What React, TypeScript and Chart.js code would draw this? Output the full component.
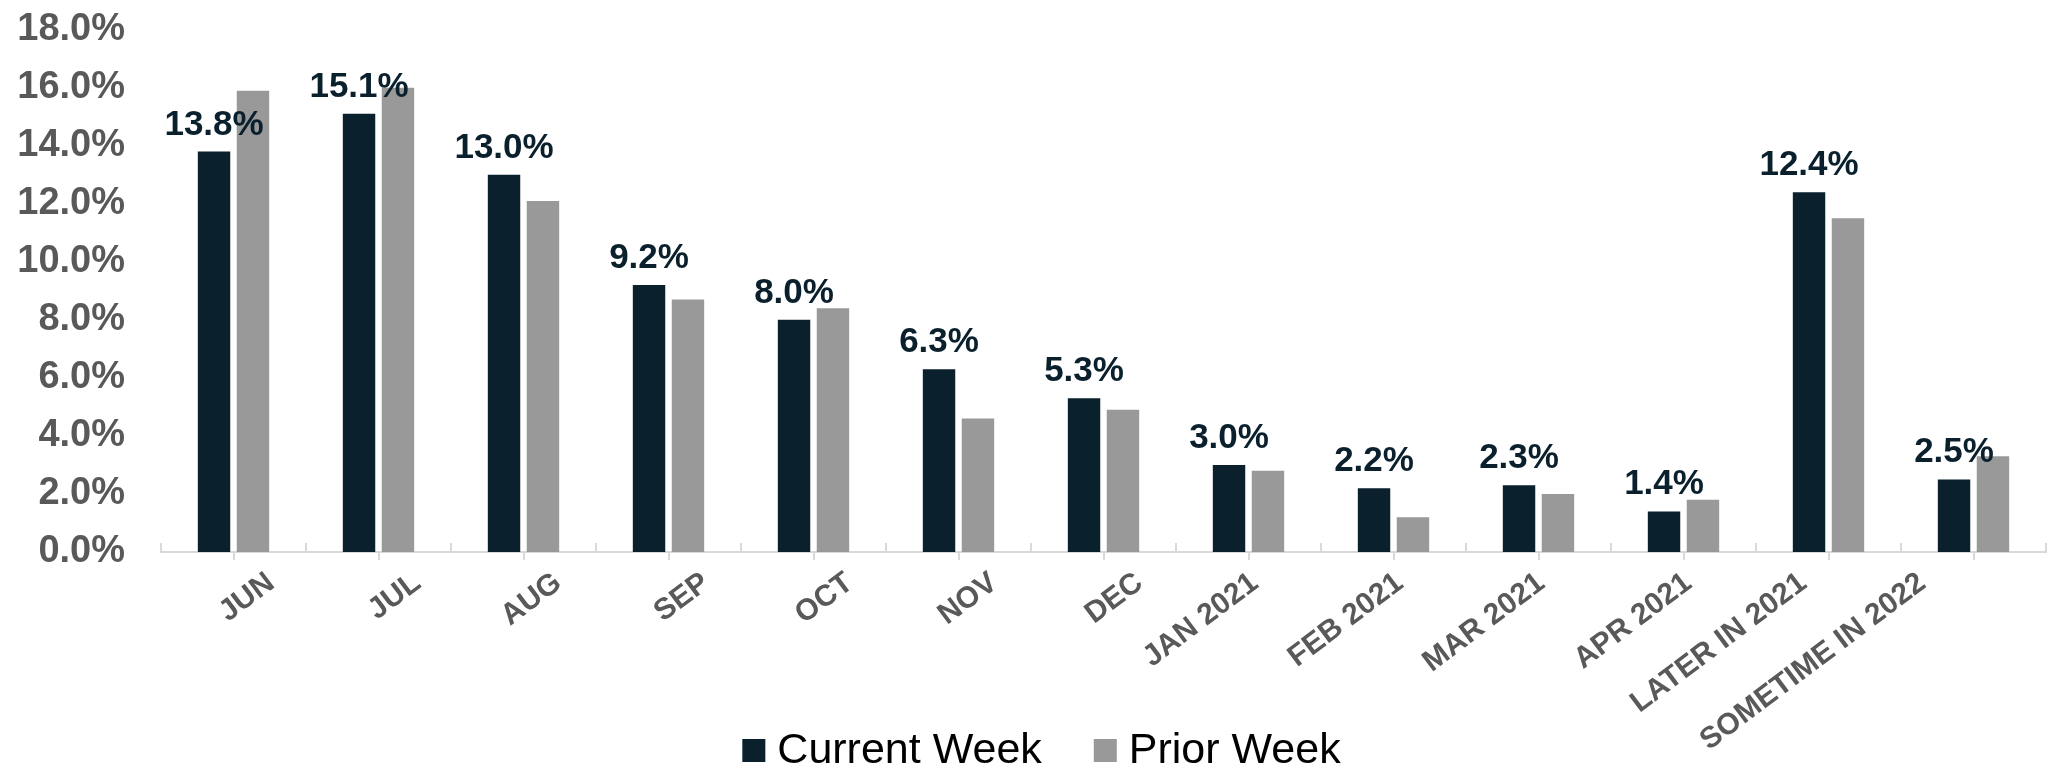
import React, { useEffect, useRef } from "react";
import { Chart, registerables } from "chart.js";

Chart.register(...registerables);

const categories = [
  "JUN", "JUL", "AUG", "SEP", "OCT", "NOV", "DEC",
  "JAN 2021", "FEB 2021", "MAR 2021", "APR 2021",
  "LATER IN 2021", "SOMETIME IN 2022",
];
const currentWeek = [13.8, 15.1, 13.0, 9.2, 8.0, 6.3, 5.3, 3.0, 2.2, 2.3, 1.4, 12.4, 2.5];
const priorWeek = [15.9, 16.0, 12.1, 8.7, 8.4, 4.6, 4.9, 2.8, 1.2, 2.0, 1.8, 11.5, 3.3];
const seriesNames = ["Current Week", "Prior Week"];
const yMin = 0;
const yMax = 18;
const yStep = 2;

const FONT = "'Liberation Sans', Arial, sans-serif";
const NAVY = "#0b202d";
const GRAY = "#999999";
const TICK_GRAY = "#595959";
const AXIS_GRAY = "#d9d9d9";
const X_FONT_SIZE = 30;
const X_ROTATION = 37;

const dataLabelPlugin = {
  id: "dataLabels",
  afterDatasetsDraw(chart: any) {
    const ctx = chart.ctx;
    const meta = chart.getDatasetMeta(0);
    ctx.save();
    ctx.font = `bold 35px ${FONT}`;
    ctx.fillStyle = NAVY;
    ctx.textAlign = "center";
    ctx.textBaseline = "alphabetic";
    meta.data.forEach((el: any, i: number) => {
      const v = chart.data.datasets[0].data[i];
      ctx.fillText(`${Number(v).toFixed(1)}%`, el.x, el.y - 17);
    });
    ctx.restore();
  },
};

// small marks above the axis at category boundaries + rotated category labels
const xAxisDecorPlugin = {
  id: "xAxisDecor",
  afterDraw(chart: any) {
    const xs = chart.scales.x;
    const ctx = chart.ctx;
    const labels: string[] = chart.data.labels;
    const n = labels.length;
    const y = chart.chartArea.bottom;
    ctx.save();
    ctx.strokeStyle = AXIS_GRAY;
    ctx.lineWidth = 2;
    for (let i = 0; i <= n; i++) {
      let x: number;
      if (i === 0) x = xs.left;
      else if (i === n) x = xs.right;
      else x = (xs.getPixelForValue(i - 1) + xs.getPixelForValue(i)) / 2;
      ctx.beginPath();
      ctx.moveTo(x, y - 9);
      ctx.lineTo(x, y);
      ctx.stroke();
    }
    ctx.font = `bold ${X_FONT_SIZE}px ${FONT}`;
    ctx.fillStyle = TICK_GRAY;
    ctx.textAlign = "right";
    ctx.textBaseline = "alphabetic";
    const capH = X_FONT_SIZE * 0.716;
    const ang = (X_ROTATION * Math.PI) / 180;
    labels.forEach((lbl, i) => {
      const tx = xs.getPixelForValue(i);
      const w = ctx.measureText(lbl).width;
      const off = 54.4 - 0.4147 * w;
      ctx.save();
      ctx.translate(tx + off, y + 17);
      ctx.rotate(-ang);
      ctx.fillText(lbl, 0, capH);
      ctx.restore();
    });
    ctx.restore();
  },
};

const customLegendPlugin = {
  id: "customLegend",
  afterDraw(chart: any) {
    const ctx = chart.ctx;
    const ds = chart.data.datasets;
    const box = 23;
    const gapText = 12;
    const gapItem = 52;
    ctx.save();
    ctx.font = `43px ${FONT}`;
    const widths = ds.map((d: any) => ctx.measureText(d.label).width);
    const total = widths.reduce((a: number, w: number) => a + box + gapText + w, 0) + gapItem * (ds.length - 1);
    let x = chart.width / 2 + 17 - total / 2;
    const boxTop = chart.height - 31;
    const baseline = chart.height - 7;
    ds.forEach((d: any, i: number) => {
      ctx.fillStyle = d.backgroundColor;
      ctx.fillRect(x, boxTop, box, box);
      ctx.fillStyle = "#000000";
      ctx.textAlign = "left";
      ctx.textBaseline = "alphabetic";
      ctx.fillText(d.label, x + box + gapText, baseline);
      x += box + gapText + widths[i] + gapItem;
    });
    ctx.restore();
  },
};

function BarChart() {
  const ref = useRef<HTMLCanvasElement | null>(null);
  useEffect(() => {
    if (!ref.current) return;
    const chart = new Chart(ref.current, {
      type: "bar",
      data: {
        labels: categories,
        datasets: [
          {
            label: seriesNames[0],
            data: currentWeek,
            backgroundColor: NAVY,
            categoryPercentage: 0.537,
            barPercentage: 0.833,
          },
          {
            label: seriesNames[1],
            data: priorWeek,
            backgroundColor: GRAY,
            categoryPercentage: 0.537,
            barPercentage: 0.833,
          },
        ],
      },
      options: {
        animation: false,
        responsive: false,
        maintainAspectRatio: false,
        layout: { padding: { left: 15, right: 3, top: 0, bottom: 0 } },
        plugins: {
          legend: { display: false },
          tooltip: { enabled: false },
        },
        scales: {
          x: {
            border: { display: true, color: AXIS_GRAY, width: 2 },
            grid: {
              display: true,
              drawOnChartArea: false,
              drawTicks: true,
              tickLength: 8,
              offset: false,
              color: AXIS_GRAY,
              lineWidth: 2,
            },
            ticks: { display: false },
            afterFit: (scale: any) => {
              scale.height = 218;
              scale.paddingLeft = 0;
              scale.paddingRight = 0;
            },
          },
          y: {
            min: yMin,
            max: yMax,
            border: { display: false },
            grid: { display: false, drawTicks: false },
            ticks: {
              stepSize: yStep,
              autoSkip: false,
              color: TICK_GRAY,
              padding: 36,
              font: { family: FONT, size: 38, weight: "bold" },
              callback: (v: any) => `${Number(v).toFixed(1)}%`,
            },
            afterFit: (scale: any) => {
              scale.width = 146;
              scale.paddingTop = 29.7;
              scale.paddingBottom = 0;
            },
          },
        },
      },
      plugins: [dataLabelPlugin, xAxisDecorPlugin, customLegendPlugin],
    });
    return () => chart.destroy();
  }, []);
  return <canvas ref={ref} width={2049} height={770} style={{ display: "block", width: 2049, height: 770 }} />;
}

export default function App() {
  return (
    <div style={{ position: "fixed", left: 0, top: 0, width: 2049, height: 770, background: "#ffffff" }}>
      <BarChart />
    </div>
  );
}
